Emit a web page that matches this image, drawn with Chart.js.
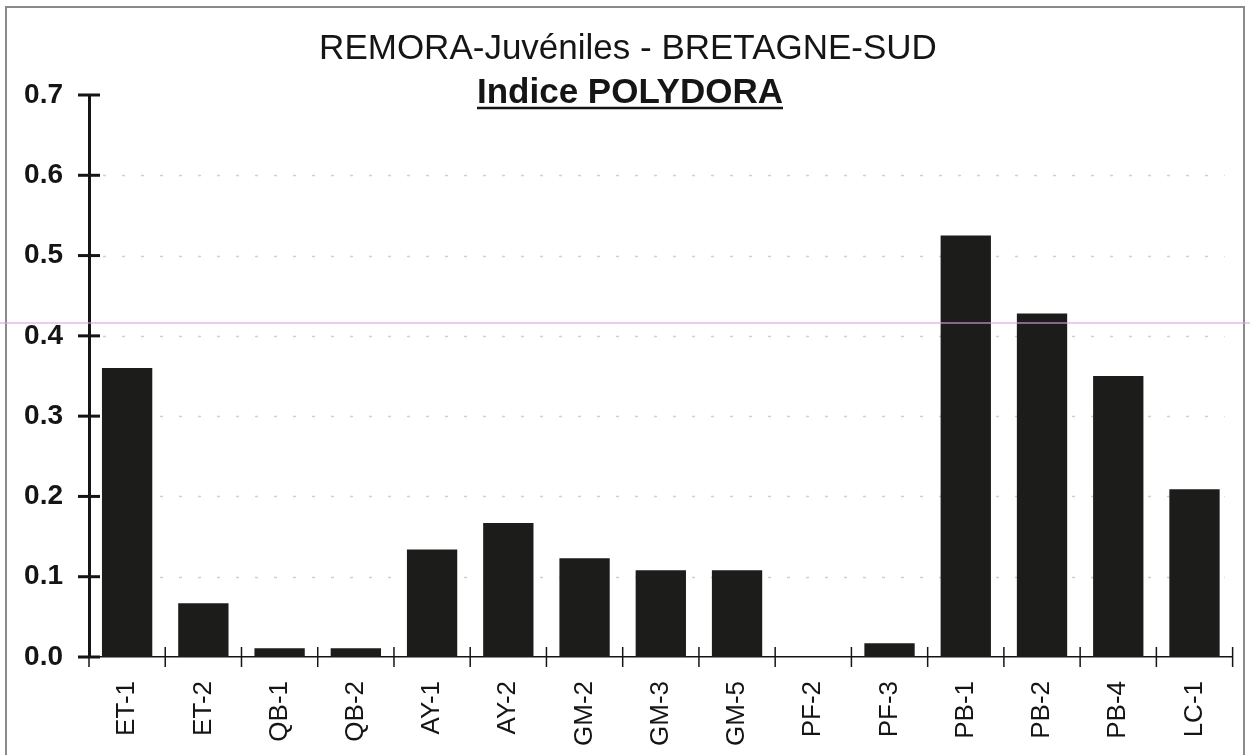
<!DOCTYPE html>
<html>
<head>
<meta charset="utf-8">
<title>Indice POLYDORA</title>
<script src="https://cdn.jsdelivr.net/npm/chart.js"></script>
<style>
  html, body { margin: 0; padding: 0; background: #fff; }
  #wrap { width: 1250px; height: 755px; position: relative; }
</style>
</head>
<body>
<div id="wrap"><canvas id="chart"></canvas></div>
<script>
// donnees
const stations = ['ET-1', 'ET-2', 'QB-1', 'QB-2', 'AY-1', 'AY-2', 'GM-2', 'GM-3', 'GM-5', 'PF-2', 'PF-3', 'PB-1', 'PB-2', 'PB-4', 'LC-1'];
const indicePolydora = [0.36, 0.067, 0.011, 0.011, 0.134, 0.167, 0.123, 0.108, 0.108, 0, 0.017, 0.525, 0.428, 0.35, 0.209];
const yTicks = [0, 0.1, 0.2, 0.3, 0.4, 0.5, 0.6, 0.7];
const titre = 'REMORA-Juvéniles - BRETAGNE-SUD';
const sousTitre = 'Indice POLYDORA';
const ligneRose = 0.416;

// cadre, grille pointillee, graduations croisees et titres
const decor = {
  id: 'decor',
  beforeDraw(chart) {
    const ctx = chart.ctx;
    ctx.save();
    ctx.fillStyle = '#fff';
    ctx.fillRect(0, 0, chart.width, chart.height);
    ctx.strokeStyle = '#8a8a8a';
    ctx.lineWidth = 2;
    ctx.strokeRect(6, 7, 1238, 800);
    ctx.restore();
  },
  beforeDatasetsDraw(chart) {
    const ctx = chart.ctx;
    const a = chart.chartArea;
    const y = chart.scales.y;
    ctx.save();
    ctx.strokeStyle = '#cfcfcf';
    ctx.lineWidth = 1.5;
    ctx.setLineDash([3, 16]);
    yTicks.forEach((v) => {
      if (v === 0 || v === 0.7) return;
      const py = Math.round(y.getPixelForValue(v)) + 0.5;
      ctx.beginPath();
      ctx.moveTo(a.left + 14, py);
      ctx.lineTo(a.right - 8, py);
      ctx.stroke();
    });
    ctx.restore();
  },
  afterDraw(chart) {
    const ctx = chart.ctx;
    const a = chart.chartArea;
    const x = chart.scales.x;
    const y = chart.scales.y;
    ctx.save();
    // ligne rose (trace du scan)
    ctx.strokeStyle = 'rgba(226,160,226,0.75)';
    ctx.lineWidth = 1.5;
    const pr = y.getPixelForValue(ligneRose);
    ctx.beginPath();
    ctx.moveTo(0, pr);
    ctx.lineTo(chart.width, pr);
    ctx.stroke();

    // graduations y
    ctx.strokeStyle = '#151515';
    ctx.lineWidth = 3;
    yTicks.forEach((v) => {
      const py = y.getPixelForValue(v);
      ctx.beginPath();
      ctx.moveTo(a.left - 11, py);
      ctx.lineTo(a.left + 11, py);
      ctx.stroke();
    });
    // graduations x entre les categories
    ctx.lineWidth = 1.5;
    for (let i = 0; i <= stations.length; i++) {
      const px = x.getPixelForValue(i - 0.5);
      ctx.beginPath();
      ctx.moveTo(px, a.bottom - 10);
      ctx.lineTo(px, a.bottom + 10);
      ctx.stroke();
    }

    // titres
    const cx = 628;
    ctx.fillStyle = '#151515';
    ctx.textAlign = 'center';
    ctx.textBaseline = 'alphabetic';
    ctx.font = '35px "Liberation Sans", Arial, sans-serif';
    ctx.fillText(titre, cx, 59);
    ctx.font = 'bold 35px "Liberation Sans", Arial, sans-serif';
    ctx.fillText(sousTitre, cx + 2, 103);
    const w = ctx.measureText(sousTitre).width;
    ctx.lineWidth = 2.5;
    ctx.beginPath();
    ctx.moveTo(cx + 2 - w / 2, 108);
    ctx.lineTo(cx + 2 + w / 2, 108);
    ctx.stroke();
    ctx.restore();
  }
};

const ctx = document.getElementById('chart').getContext('2d');
new Chart(ctx, {
  type: 'bar',
  data: {
    labels: stations,
    datasets: [{
      label: 'Indice POLYDORA',
      data: indicePolydora,
      backgroundColor: '#1c1c1a',
      borderWidth: 0,
      barPercentage: 0.66,
      categoryPercentage: 1.0,
    }],
  },
  options: {
    responsive: true,
    maintainAspectRatio: false,
    animation: false,
    layout: { padding: { top: 95, right: 9, bottom: 0, left: 0 } },
    plugins: {
      legend: { display: false },
      tooltip: { enabled: false },
      title: { display: false },
    },
    scales: {
      x: {
        offset: true,
        grid: { display: false, drawTicks: false },
        border: { display: true, color: '#151515', width: 1.5 },
        ticks: {
          color: '#151515',
          font: { family: '"Liberation Sans", Arial, sans-serif', size: 26 },
          minRotation: 90,
          maxRotation: 90,
          padding: 24,
          autoSkip: false,
        },
        afterFit(scale) { scale.height = 98; },
      },
      y: {
        min: 0,
        max: 0.7,
        grid: { display: false, drawTicks: false },
        border: { display: true, color: '#151515', width: 3 },
        ticks: {
          stepSize: 0.1,
          color: '#151515',
          padding: 26,
          font: { family: '"Liberation Sans", Arial, sans-serif', size: 28, weight: 'bold' },
          callback: (v) => Number(v).toFixed(1),
        },
        afterFit(scale) { scale.width = 89; },
      },
    },
  },
  plugins: [decor],
});
</script>
</body>
</html>
